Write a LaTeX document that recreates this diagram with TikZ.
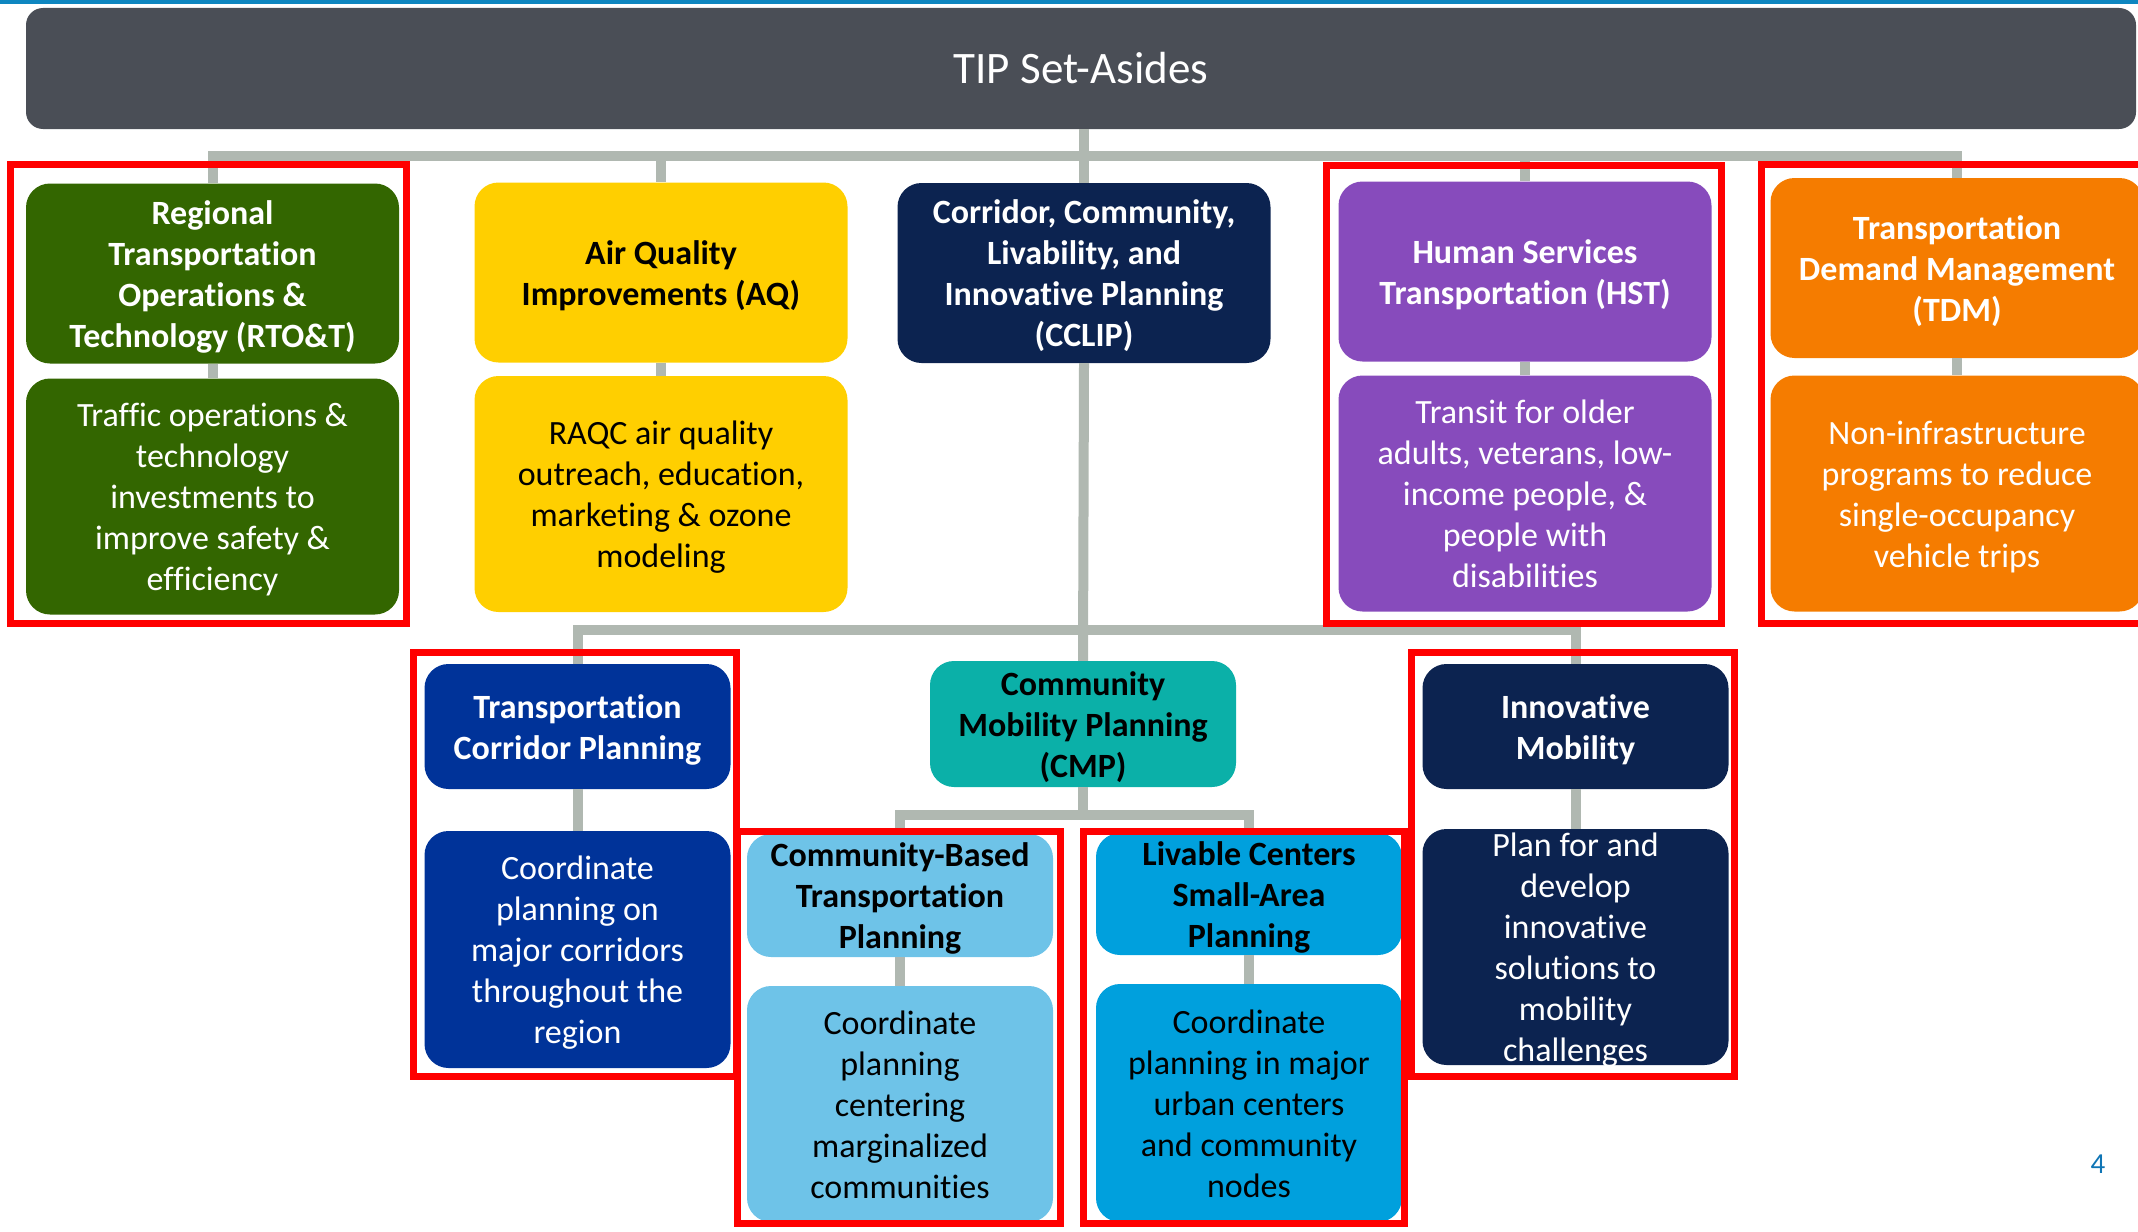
\documentclass[tikz,border=0pt]{standalone}
\usepackage{fontspec}
\setmainfont{Carlito}[Ligatures={NoCommon}]

\definecolor{topblue}{RGB}{14,134,192}
\definecolor{bargray}{RGB}{74,78,86}
\definecolor{linkgray}{RGB}{176,184,177}
\definecolor{rtogreen}{RGB}{51,102,0}
\definecolor{aqyellow}{RGB}{255,207,0}
\definecolor{navy}{RGB}{12,35,80}
\definecolor{hstpurple}{RGB}{135,75,188}
\definecolor{tdmorange}{RGB}{245,124,0}
\definecolor{tcpblue}{RGB}{0,51,153}
\definecolor{cmpteal}{RGB}{11,176,168}
\definecolor{cbtpblue}{RGB}{110,195,232}
\definecolor{lcblue}{RGB}{0,160,221}
\definecolor{pagenum}{RGB}{15,117,181}

\tikzset{
  box/.style={rounded corners=24pt, inner sep=0pt, align=center, font=\fontsize{34}{41}\selectfont},
  hd/.style={box, font=\fontsize{34}{41}\selectfont\bfseries},
  % text block of #1 lines, set so the lines sit centred in the box
  nlines/.code={\pgfmathsetmacro\lineht{41*(#1-1)+27}\tikzset{text height=\lineht pt, text depth=3pt}},
  wide/.style={minimum width=373pt},
  narrow/.style={minimum width=306pt},
  conn/.style={draw=linkgray, line width=10pt},
  hilite/.style={draw=red, line width=7pt}
}

\begin{document}
\begin{tikzpicture}[x=1pt,y=1pt,yscale=-1,xscale=1]
\useasboundingbox (0,0) rectangle (2138,1231);
\clip (0,0) rectangle (2138,1231);

%Top rule
\fill [topblue] (0,0) rectangle (2138,4.5);

%Title bar
\node [fill=bargray, rounded corners=17pt, minimum width=2110pt, minimum height=121pt, text=white, font=\fontsize{45}{54}\selectfont] (title) at (1081,68.5) {TIP Set-Asides};

%Top row: headers
\node [hd, wide, nlines=4, fill=rtogreen, text=white, minimum height=180pt] (rto) at (212.5,273.5) {Regional\\Transportation\\Operations \&\\Technology (RTO\&T)};
\node [hd, wide, nlines=2, fill=aqyellow, text=black, minimum height=180pt] (aq) at (661,272.5) {Air Quality\\Improvements (AQ)};
\node [hd, wide, nlines=4, fill=navy, text=white, minimum height=180pt] (cclip) at (1084,273) {Corridor, Community,\\Livability, and\\Innovative Planning\\(CCLIP)};
\node [hd, wide, nlines=2, fill=hstpurple, text=white, minimum height=180pt] (hst) at (1525,271.5) {Human Services\\Transportation (HST)};
\node [hd, wide, nlines=3, fill=tdmorange, text=white, minimum height=180pt] (tdm) at (1957,268) {Transportation\\Demand Management\\(TDM)};

%Top row: descriptions
\node [box, wide, nlines=5, fill=rtogreen, text=white, minimum height=236pt] (rtobody) at (212.5,496.5) {Traffic operations \&\\technology\\investments to\\improve safety \&\\efficiency};
\node [box, wide, nlines=4, fill=aqyellow, text=black, minimum height=236pt] (aqbody) at (661,494) {RAQC air quality\\outreach, education,\\marketing \& ozone\\modeling};
\node [box, wide, nlines=5, fill=hstpurple, text=white, minimum height=236pt] (hstbody) at (1525,493.5) {Transit for older\\adults, veterans, low-\\income people, \&\\people with\\disabilities};
\node [box, wide, nlines=4, fill=tdmorange, text=white, minimum height=236pt] (tdmbody) at (1957,493.5) {Non-infrastructure\\programs to reduce\\single-occupancy\\vehicle trips};

%Middle row
\node [hd, narrow, nlines=2, fill=tcpblue, text=white, minimum height=125pt] (tcp) at (577.5,726.5) {Transportation\\Corridor Planning};
\node [hd, narrow, nlines=3, fill=cmpteal, text=black, minimum height=126pt] (cmp) at (1083,724) {Community\\Mobility Planning\\(CMP)};
\node [hd, narrow, nlines=2, fill=navy, text=white, minimum height=125pt] (im) at (1575.5,726.5) {Innovative\\Mobility};
\node [box, narrow, nlines=5, fill=tcpblue, text=white, minimum height=237pt] (tcpbody) at (577.5,949.5) {Coordinate\\planning on\\major corridors\\throughout the\\region};
\node [box, narrow, nlines=6, fill=navy, text=white, minimum height=236pt] (imbody) at (1575.5,947) {Plan for and\\develop\\innovative\\solutions to\\mobility\\challenges};

%Bottom row
\node [hd, narrow, nlines=3, fill=cbtpblue, text=black, minimum height=123pt] (cbtp) at (900,895.5) {Community-Based\\Transportation\\Planning};
\node [hd, narrow, nlines=3, fill=lcblue, text=black, minimum height=122pt] (lc) at (1249,894) {Livable Centers\\Small-Area\\Planning};
\node [box, narrow, nlines=5, fill=cbtpblue, text=black, minimum height=236pt] (cbtpbody) at (900,1104) {Coordinate\\planning\\centering\\marginalized\\communities};
\node [box, narrow, nlines=5, fill=lcblue, text=black, minimum height=238pt] (lcbody) at (1249,1103) {Coordinate\\planning in major\\urban centers\\and community\\nodes};

%Bus points
\coordinate (topbus) at (1084,156);
\coordinate (midbus) at (1084,630);
\coordinate (lowbus) at (1083,815);

%Straight Lines
\draw [conn] (title.south -| topbus) -- (cclip.north);
\draw [conn] (rto.north) |- (topbus) -| (tdm.north);
\draw [conn] (topbus -| aq.north) -- (aq.north);
\draw [conn] (topbus -| hst.north) -- (hst.north);
\draw [conn] (cclip.south) -- (cmp.north);
\draw [conn] (tcp.north) |- (midbus) -| (im.north);
\draw [conn] (cmp.south) -- (lowbus);
\draw [conn] (cbtp.north) |- (lowbus) -| (lc.north);
\foreach \n in {rto,aq,hst,tdm,tcp,im,cbtp,lc}
  \draw [conn] (\n.south) -- (\n body.north);

%Highlight frames
\draw [hilite] (10.5,164.5) rectangle (406.5,623.5);
\draw [hilite] (1326.5,165.5) rectangle (1721.5,623.5);
\draw [hilite] (1761.5,164.5) rectangle (2150,623.5);
\draw [hilite] (413.5,652.5) rectangle (736.5,1076.5);
\draw [hilite] (737.5,831.5) rectangle (1060.5,1223.5);
\draw [hilite] (1083.5,831.5) rectangle (1404.5,1223.5);
\draw [hilite] (1411.5,652.5) rectangle (1734.5,1076.5);

% Text Node
\node [text=pagenum, font=\fontsize{29}{35}\selectfont] (page) at (2098,1164) {4};

\end{tikzpicture}
\end{document}
